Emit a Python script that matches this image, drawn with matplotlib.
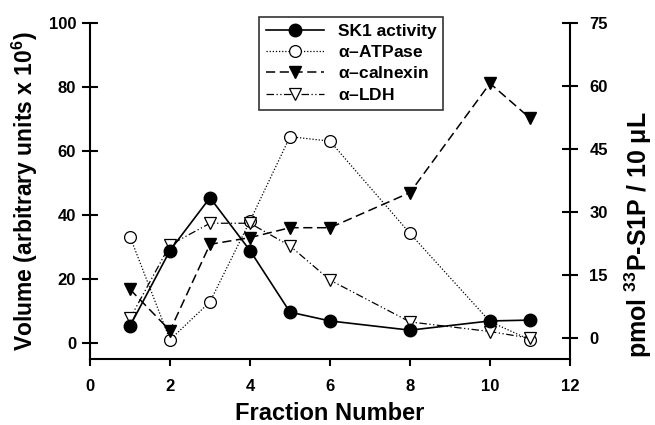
import matplotlib

matplotlib.use("Agg")
import matplotlib.pyplot as plt

plt.rcParams["font.family"] = ["Liberation Sans", "DejaVu Sans"]
plt.rcParams["font.weight"] = "bold"
plt.rcParams["mathtext.fontset"] = "custom"
plt.rcParams["mathtext.rm"] = "Liberation Sans"
plt.rcParams["mathtext.it"] = "Liberation Sans"
plt.rcParams["mathtext.bf"] = "Liberation Sans:bold"

# fraction numbers
fractions = [1, 2, 3, 4, 5, 6, 8, 10, 11]

# SK1 activity, right axis (pmol 33P-S1P / 10 uL)
sk1_activity = [2.8, 20.8, 33.4, 20.8, 6.1, 4.0, 1.8, 4.0, 4.2]

# western blot volumes, left axis
atpase = [33.2, 0.9, 12.8, 38.1, 64.5, 63.1, 34.2, 6.6, 0.9]
calnexin = [16.7, 3.8, 30.8, 32.9, 36.0, 36.0, 47.0, 81.2, 70.3]
ldh = [7.6, 30.6, 37.4, 37.4, 30.3, 19.6, 6.5, 3.5, 1.4]

left_ticks = [0, 20, 40, 60, 80, 100]
right_ticks = [0, 15, 30, 45, 60, 75]
x_ticks = [0, 2, 4, 6, 8, 10, 12]

fig = plt.figure(figsize=(6.55, 4.25), dpi=100)
ax = fig.add_axes([90 / 655, 65.7 / 425, 480 / 655, 336 / 425])
ax2 = ax.twinx()

ms = 8.5
l_atp, = ax.plot(fractions, atpase, color="black", lw=0.9, ls=(0, (1, 1.5)),
                 marker="o", ms=ms, mfc="white", mec="black", mew=0.9,
                 label=r"$\alpha$–ATPase")
l_cal, = ax.plot(fractions, calnexin, color="black", lw=1.1, ls=(0, (6, 3)),
                 marker="v", ms=ms, mfc="black", mec="black",
                 label=r"$\alpha$–calnexin")
l_ldh, = ax.plot(fractions, ldh, color="black", lw=0.9, ls=(0, (6, 2, 1, 2, 1, 2)),
                 marker="v", ms=ms, mfc="white", mec="black", mew=0.9,
                 label=r"$\alpha$–LDH")
l_sk1, = ax2.plot(fractions, sk1_activity, color="black", lw=1.2, ls="-",
                  marker="o", ms=ms + 0.5, mfc="black", mec="black",
                  label="SK1 activity")

ax.set_xlim(0, 12)
ax.set_ylim(-5.2, 100)
ax2.set_ylim(-5.15, 75)
ax.set_xticks(x_ticks)
ax.set_yticks(left_ticks)
ax2.set_yticks(right_ticks)

for a in (ax, ax2):
    a.spines["top"].set_visible(False)
    for s in a.spines.values():
        s.set_linewidth(1.5)
ax.spines["right"].set_visible(False)
ax2.spines["left"].set_visible(False)
ax2.spines["bottom"].set_visible(False)

ax.tick_params(axis="x", direction="out", length=5, width=1.5, labelsize=12, pad=9)
ax.tick_params(axis="y", direction="inout", length=12, width=1.5, labelsize=12, pad=4)
ax2.tick_params(axis="y", direction="inout", length=12, width=1.5, labelsize=12, pad=8)
for lbl in ax.get_xticklabels() + ax.get_yticklabels() + ax2.get_yticklabels():
    lbl.set_fontweight("bold")

ax.set_xlabel("Fraction Number", fontsize=17, fontweight="bold", labelpad=6)
ax.set_ylabel(r"Volume (arbitrary units x 10$^{\mathbf{6}}$)", fontsize=16.5,
              fontweight="bold", labelpad=6)
ax2.set_ylabel(r"pmol $^{\mathbf{33}}$P-S1P / 10 $\mu$L", fontsize=18,
               fontweight="bold")
ax2.yaxis.set_label_coords(1.11, 0.37)

leg = ax2.legend(handles=[l_sk1, l_atp, l_cal, l_ldh], loc="upper left",
                 bbox_to_anchor=(0.335, 1.045), fontsize=12.5, frameon=True,
                 fancybox=False, edgecolor="black", handlelength=3.3,
                 borderpad=0.4, labelspacing=0.3, handletextpad=0.8)
leg.get_frame().set_linewidth(1.2)
for t in leg.get_texts():
    t.set_fontweight("bold")

fig.savefig("out.png", dpi=100)
